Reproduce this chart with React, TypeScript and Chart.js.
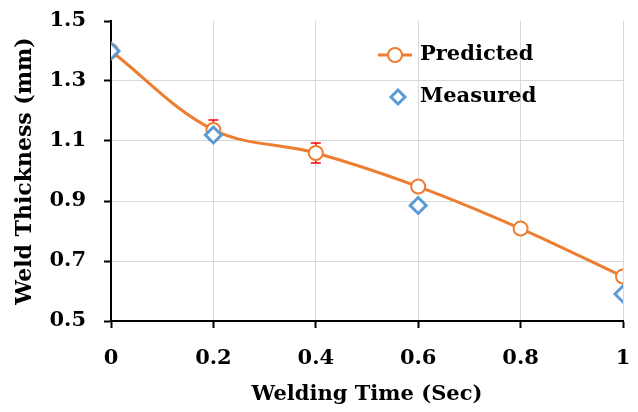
import React, { useEffect, useRef } from "react";
import { Chart, registerables } from "chart.js";

Chart.register(...registerables);

const X_VALUES = [0, 0.2, 0.4, 0.6, 0.8, 1];
const PREDICTED = [1.4, 1.137, 1.06, 0.948, 0.808, 0.648];
const PREDICTED_ERR = [0, 0.033, 0.033, 0, 0, 0];
const MEASURED = [1.4, 1.12, null, 0.885, null, 0.59];
const X_TICKS = [0, 0.2, 0.4, 0.6, 0.8, 1];
const Y_TICKS = [0.5, 0.7, 0.9, 1.1, 1.3, 1.5];

const ORANGE = "#ED7D31";
const BLUE = "#5B9BD5";
const FONT = "'DejaVu Serif', serif";

const errorBarPlugin = {
  id: "errorBars",
  beforeDatasetsDraw(chart: any) {
    const { ctx, scales } = chart;
    const xs = scales.x;
    const ys = scales.y;
    ctx.save();
    ctx.strokeStyle = "#FF0000";
    ctx.lineWidth = 1.5;
    PREDICTED.forEach((v, i) => {
      const e = PREDICTED_ERR[i];
      if (!e) return;
      const px = xs.getPixelForValue(X_VALUES[i]);
      const top = ys.getPixelForValue(v + e);
      const bot = ys.getPixelForValue(v - e);
      ctx.beginPath();
      ctx.moveTo(px, top);
      ctx.lineTo(px, bot);
      ctx.moveTo(px - 5, top);
      ctx.lineTo(px + 5, top);
      ctx.moveTo(px - 5, bot);
      ctx.lineTo(px + 5, bot);
      ctx.stroke();
    });
    ctx.restore();
  },
};

const legendPlugin = {
  id: "insideLegend",
  afterDraw(chart: any) {
    const { ctx } = chart;
    ctx.save();
    const lx = 378;
    const y1 = 55;
    const y2 = 97;
    ctx.strokeStyle = ORANGE;
    ctx.lineWidth = 3;
    ctx.beginPath();
    ctx.moveTo(lx, y1);
    ctx.lineTo(lx + 34, y1);
    ctx.stroke();
    ctx.fillStyle = "#fff";
    ctx.lineWidth = 2;
    ctx.beginPath();
    ctx.arc(lx + 17, y1, 7, 0, Math.PI * 2);
    ctx.fill();
    ctx.stroke();
    ctx.strokeStyle = BLUE;
    ctx.lineWidth = 3;
    const cx = lx + 20;
    const r = 7;
    ctx.beginPath();
    ctx.moveTo(cx, y2 - r);
    ctx.lineTo(cx + r, y2);
    ctx.lineTo(cx, y2 + r);
    ctx.lineTo(cx - r, y2);
    ctx.closePath();
    ctx.fill();
    ctx.stroke();
    ctx.fillStyle = "#000";
    ctx.font = `bold 21px ${FONT}`;
    ctx.textBaseline = "middle";
    ctx.fillText("Predicted", lx + 42, y1);
    ctx.fillText("Measured", lx + 42, y2);
    ctx.restore();
  },
};

export default function App() {
  const ref = useRef<HTMLCanvasElement>(null);
  useEffect(() => {
    document.body.style.margin = "0";
    const chart = new Chart(ref.current!, {
      type: "line",
      data: {
        datasets: [
          {
            label: "Measured",
            data: X_VALUES.map((x, i) => ({ x, y: MEASURED[i] })),
            showLine: false,
            pointStyle: "rectRot",
            pointRadius: 8,
            pointBorderWidth: 3,
            pointBackgroundColor: "#fff",
            pointBorderColor: BLUE,
            borderColor: BLUE,
            backgroundColor: "#fff",
            order: 0,
          },
          {
            label: "Predicted",
            data: X_VALUES.map((x, i) => ({ x, y: PREDICTED[i] })),
            borderColor: ORANGE,
            borderWidth: 3,
            tension: 0.35,
            pointStyle: "circle",
            pointRadius: 7,
            pointBorderWidth: 2,
            pointBackgroundColor: "#fff",
            pointBorderColor: ORANGE,
            backgroundColor: "#fff",
            order: 1,
          },
        ],
      } as any,
      options: {
        animation: false,
        responsive: false,
        maintainAspectRatio: false,
        layout: { padding: { top: 21, right: 15, left: 0, bottom: 0 } },
        plugins: { legend: { display: false }, tooltip: { enabled: false } },
        scales: {
          x: {
            type: "linear",
            min: 0,
            max: 1,
            afterBuildTicks: (s: any) => {
              s.ticks = X_TICKS.map((v) => ({ value: v }));
            },
            afterFit: (s: any) => {
              s.height = 91;
              s.paddingLeft = 0;
              s.paddingRight = 0;
            },
            border: { display: true, color: "#000", width: 2 },
            grid: {
              color: "#d9d9d9",
              lineWidth: 1,
              tickColor: "#000",
              tickLength: 7,
              tickWidth: 2,
            },
            ticks: {
              color: "#000",
              padding: 18,
              font: { family: FONT, size: 21, weight: "bold" },
              maxRotation: 0,
              callback: (v: any) => String(v),
            },
            title: {
              display: true,
              text: "Welding Time (Sec)",
              color: "#000",
              font: { family: FONT, size: 21, weight: "bold" },
              padding: { top: 0, bottom: 5 },
            },
          },
          y: {
            type: "linear",
            min: 0.5,
            max: 1.5,
            afterBuildTicks: (s: any) => {
              s.ticks = Y_TICKS.map((v) => ({ value: v }));
            },
            afterFit: (s: any) => {
              s.width = 111;
              s.paddingTop = 0;
              s.paddingBottom = 0;
            },
            border: { display: true, color: "#000", width: 2 },
            grid: {
              color: (c: any) => (c.tick && c.tick.value === 1.5 ? "rgba(0,0,0,0)" : "#d9d9d9"),
              lineWidth: 1,
              tickColor: "#000",
              tickLength: 7,
              tickWidth: 2,
            },
            ticks: {
              color: "#000",
              padding: 18,
              font: { family: FONT, size: 21, weight: "bold" },
              callback: (v: any) => Number(v).toFixed(1),
            },
            title: {
              display: true,
              text: "Weld Thickness (mm)",
              color: "#000",
              font: { family: FONT, size: 22, weight: "bold" },
              padding: { top: 12, bottom: 0 },
            },
          },
        },
      } as any,
      plugins: [errorBarPlugin, legendPlugin],
    });
    return () => chart.destroy();
  }, []);
  return (
    <div style={{ width: 638, height: 412, background: "#fff" }}>
      <canvas ref={ref} width={638} height={412} style={{ display: "block" }} />
    </div>
  );
}
